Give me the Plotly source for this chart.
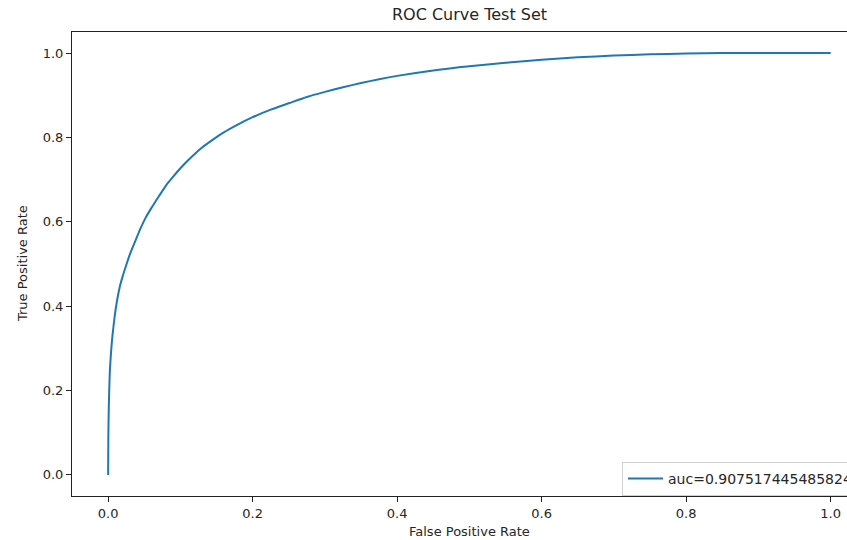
import plotly.graph_objects as go

# ROC curve values
fpr = [0.0, 0.0003, 0.0008, 0.0015, 0.0025, 0.004, 0.006, 0.009, 0.012, 0.016,
       0.02, 0.025, 0.03, 0.037, 0.045, 0.052, 0.06, 0.07, 0.08, 0.09, 0.1,
       0.115, 0.13, 0.145, 0.16, 0.18, 0.2, 0.225, 0.25, 0.275, 0.3, 0.325,
       0.35, 0.375, 0.4, 0.45, 0.5, 0.55, 0.6, 0.65, 0.7, 0.75, 0.8, 0.85,
       0.9, 0.95, 1.0]
tpr = [0.0, 0.09, 0.15, 0.20, 0.25, 0.29, 0.33, 0.375, 0.41, 0.445,
       0.47, 0.497, 0.522, 0.552, 0.585, 0.61, 0.633, 0.66, 0.686, 0.707, 0.727,
       0.753, 0.776, 0.795, 0.812, 0.831, 0.848, 0.866, 0.881, 0.896, 0.908, 0.919,
       0.929, 0.938, 0.946, 0.959, 0.969, 0.977, 0.984, 0.990, 0.994, 0.997, 0.999, 1.0,
       1.0, 1.0, 1.0]
legend_label = "auc=0.907517445485824"
tick_vals = [0.0, 0.2, 0.4, 0.6, 0.8, 1.0]
tick_text = ["0.0", "0.2", "0.4", "0.6", "0.8", "1.0"]

FONT = "DejaVu Sans"
W, H = 847, 540
ML, MT, MB, MR = 72, 32, 44, 0

fig = go.Figure()
fig.add_trace(go.Scatter(x=fpr, y=tpr, mode="lines", name=legend_label,
                         line=dict(color="#1f77b4", width=2, shape="spline", smoothing=0.6)))

plot_w = W - ML - MR
plot_h = H - MT - MB

fig.update_layout(
    width=W, height=H,
    margin=dict(l=ML, r=MR, t=MT, b=MB, pad=0, autoexpand=False),
    paper_bgcolor="white", plot_bgcolor="white",
    font=dict(family=FONT, size=13, color="#262626"),
    showlegend=True,
    legend=dict(x=(622 - ML) / plot_w, y=(H - MB - 462) / plot_h,
                xanchor="left", yanchor="top", itemwidth=35,
                bordercolor="#d0d0d0", borderwidth=1, bgcolor="white",
                font=dict(family=FONT, size=14, color="#262626")),
    title=dict(text="ROC Curve Test Set", x=(469.5 - ML) / plot_w, xref="paper",
               xanchor="center", y=1 - 14 / H, yref="container", yanchor="middle",
               font=dict(family=FONT, size=16, color="#262626")),
)

fig.update_xaxes(range=[-0.05, 1.0226], tickmode="array", tickvals=tick_vals,
                 ticktext=tick_text, ticks="outside", ticklen=5, tickcolor="#222",
                 showline=True, linecolor="#222", linewidth=1, mirror=True,
                 showgrid=False, zeroline=False,
                 tickfont=dict(family=FONT, size=13, color="#262626"))
fig.update_yaxes(range=[-0.05, 1.05], tickmode="array", tickvals=tick_vals,
                 ticktext=tick_text, ticks="outside", ticklen=5, tickcolor="#222",
                 showline=True, linecolor="#222", linewidth=1, mirror=False,
                 showgrid=False, zeroline=False,
                 tickfont=dict(family=FONT, size=13, color="#262626"))

fig.add_annotation(text="False Positive Rate", xref="paper", yref="paper",
                   x=(469.5 - ML) / plot_w, y=(H - MB - 531) / plot_h,
                   xanchor="center", yanchor="middle", showarrow=False,
                   font=dict(family=FONT, size=13, color="#262626"))
fig.add_annotation(text="True Positive Rate", xref="paper", yref="paper",
                   x=(22 - ML) / plot_w, y=0.5, textangle=-90,
                   xanchor="center", yanchor="middle", showarrow=False,
                   font=dict(family=FONT, size=13, color="#262626"))

fig.write_html("out.html")
